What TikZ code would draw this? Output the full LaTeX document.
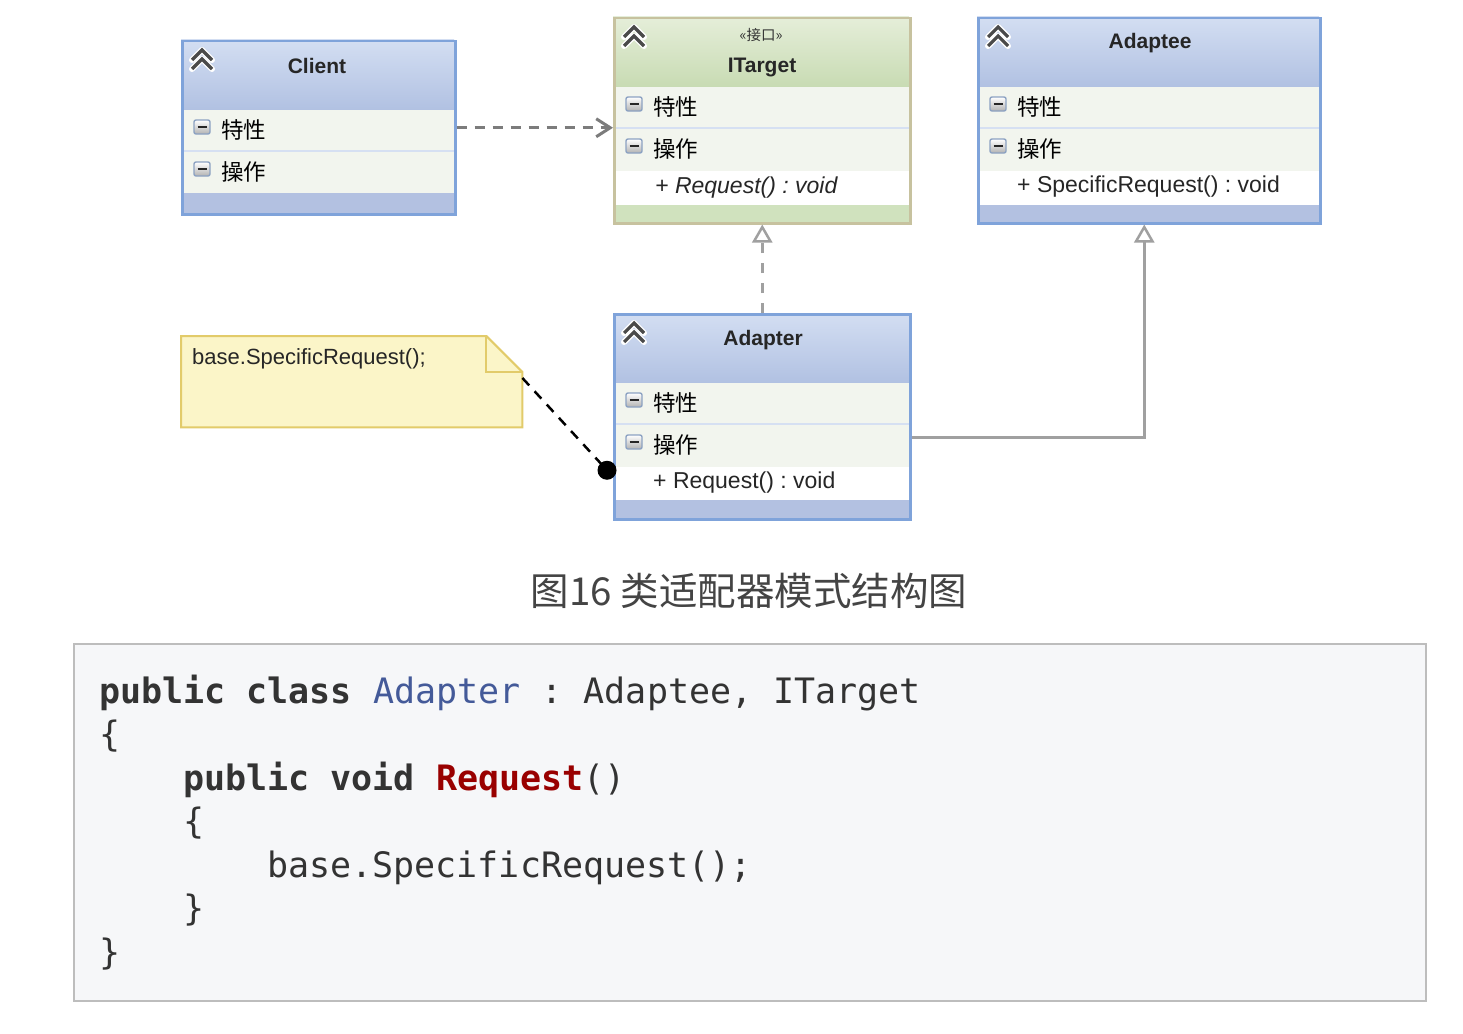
\documentclass[tikz,border=0pt]{standalone}
\usepackage{fontspec}
\setmainfont{Liberation Sans}
\newfontfamily\cjkfont{Noto Sans CJK SC}
\newfontfamily\codefont{DejaVu Sans Mono}
\usetikzlibrary{arrows.meta,calc}
\frenchspacing
\definecolor{hdrtop}{HTML}{D3DEF2}
\definecolor{hdrbot}{HTML}{B1C1E2}
\definecolor{bluebd}{HTML}{7FA3DA}
\definecolor{rowfill}{HTML}{F2F5EE}
\definecolor{rowsep}{HTML}{D6E0F2}
\definecolor{bluestrip}{HTML}{B3C1E1}
\definecolor{grtop}{HTML}{E5EED9}
\definecolor{grbot}{HTML}{C8DBB3}
\definecolor{greenbd}{HTML}{C7C29F}
\definecolor{grstrip}{HTML}{D0E2BE}
\definecolor{notefill}{HTML}{FBF5C8}
\definecolor{notebd}{HTML}{E2CB6A}
\definecolor{codebg}{HTML}{F6F7F9}
\definecolor{codebd}{HTML}{BDBDBD}
\definecolor{codetxt}{HTML}{333333}
\definecolor{codeblue}{HTML}{445A99}
\definecolor{codered}{HTML}{990000}
\definecolor{capgray}{HTML}{444444}
\definecolor{chevgray}{HTML}{4A4A4A}
\definecolor{icobd}{HTML}{8CA2C2}
\definecolor{depgray}{HTML}{7C7C7C}
\definecolor{realgray}{HTML}{A0A0A0}
\newcommand\umlframe[8]{%
  \shade[top color=#5,bottom color=#6] (#1,#2) rectangle (#3,#2+70);
  \fill[rowfill] (#1,#2+70) rectangle (#3,#4);
  \draw[rowsep,line width=1.2pt] (#1,#2+111) -- (#3,#2+111);
  \fill[#7] (#1,#4-#8) rectangle (#3,#4);
}
\newcommand\umlchev[2]{%
  \draw[white,line width=6pt,line cap=round,line join=round]
    (#1-10,#2+10) -- (#1,#2) -- (#1+10,#2+10) (#1-10,#2+19) -- (#1,#2+9) -- (#1+10,#2+19);
  \draw[chevgray,line width=3.2pt,line cap=butt,line join=miter]
    (#1-10,#2+10) -- (#1,#2) -- (#1+10,#2+10) (#1-10,#2+19) -- (#1,#2+9) -- (#1+10,#2+19);
}
\newcommand\umlminus[2]{%
  \shade[top color=white,bottom color=black!30,draw=icobd,line width=1.4pt,rounded corners=2pt]
    (#1-8,#2-7) rectangle (#1+8,#2+7);
  \draw[black!85,line width=2pt] (#1-4.5,#2) -- (#1+4.5,#2);
}
\begin{document}
\begin{tikzpicture}[x=1pt,y=-1pt,
  classbox/.style={draw=#1,line width=2.5pt,inner sep=0pt,anchor=north west,fill=none},
  title/.style={font=\bfseries\fontsize{21}{24}\selectfont,inner sep=0pt,text=black!85},
  rowlabel/.style={font=\cjkfont\fontsize{22.5}{26}\selectfont,inner sep=0pt,anchor=west},
  member/.style={font=\fontsize{23}{27}\selectfont,inner sep=0pt,anchor=west,text=black!85},
  codeline/.style={font=\codefont\fontsize{35}{40}\selectfont,inner sep=0pt,anchor=base west,text=codetxt},
  dep/.style={draw=depgray,line width=3pt,dash pattern=on 10pt off 8pt},
  realize/.style={draw=realgray,line width=2.5pt,dash pattern=on 10pt off 10pt},
  inherit/.style={draw=realgray,line width=2.5pt},
]
\useasboundingbox (0,0) rectangle (1463,1033);
\fill[white] (0,0) rectangle (1463,1033);

% ---------- class backgrounds ----------
\umlframe{181}{40}{454}{213}{hdrtop}{hdrbot}{bluestrip}{20}
\umlframe{613}{17}{909}{222}{grtop}{grbot}{grstrip}{17}
\fill[white] (613,171) rectangle (909,205);
\umlframe{977}{17}{1319}{222}{hdrtop}{hdrbot}{bluestrip}{17}
\fill[white] (977,171) rectangle (1319,205);
\umlframe{613}{313}{909}{518}{hdrtop}{hdrbot}{bluestrip}{18}
\fill[white] (613,467) rectangle (909,500);

% ---------- class borders ----------
\node[classbox=bluebd,minimum width=273pt,minimum height=173pt] (client) at (181,40) {};
\node[classbox=greenbd,minimum width=296pt,minimum height=205pt] (target) at (613,17) {};
\node[classbox=bluebd,minimum width=342pt,minimum height=205pt] (adaptee) at (977,17) {};
\node[classbox=bluebd,minimum width=296pt,minimum height=205pt] (adapter) at (613,313) {};

% ---------- icons ----------
\umlchev{202}{50}
\umlchev{634}{27}
\umlchev{998}{27}
\umlchev{634}{323}
\umlminus{202}{127}
\umlminus{202}{169}
\umlminus{634}{104}
\umlminus{634}{146}
\umlminus{998}{104}
\umlminus{998}{146}
\umlminus{634}{400}
\umlminus{634}{442}

% ---------- class texts ----------
\node[title] (client-title) at (317,66) {Client};
\node[rowlabel] (client-attr) at (221,130) {特性};
\node[rowlabel] (client-op) at (221,172) {操作};

\node[font=\cjkfont\fontsize{14.5}{16}\selectfont,inner sep=0pt,text=black!80] (target-st) at (761,35) {«接口»};
\node[title] (target-title) at (762,68) {ITarget};
\node[rowlabel] (target-attr) at (653,107) {特性};
\node[rowlabel] (target-op) at (653,149) {操作};
\node[member,font=\itshape\fontsize{23}{27}\selectfont] (target-m) at (655,188) {+ Request() : void};

\node[title] (adaptee-title) at (1150,43) {Adaptee};
\node[rowlabel] (adaptee-attr) at (1017,107) {特性};
\node[rowlabel] (adaptee-op) at (1017,149) {操作};
\node[member] (adaptee-m) at (1017,187) {+ SpecificRequest() : void};

\node[title] (adapter-title) at (763,340) {Adapter};
\node[rowlabel] (adapter-attr) at (653,403) {特性};
\node[rowlabel] (adapter-op) at (653,445) {操作};
\node[member] (adapter-m) at (653,483) {+ Request() : void};

% ---------- note ----------
\node[inner sep=0pt,minimum width=341pt,minimum height=91pt,anchor=north west] (note) at (181,336) {};
\filldraw[fill=notefill,draw=notebd,line width=2pt,line join=miter]
  (note.north west) -- ($(note.north east)+(-36,0)$) -- ($(note.north east)+(0,36)$)
  -- (note.south east) -- (note.south west) -- cycle;
\draw[notebd,line width=2pt] ($(note.north east)+(-36,0)$) -- ($(note.north east)+(-36,36)$) -- ($(note.north east)+(0,36)$);
\node[font=\fontsize{22}{26}\selectfont,inner sep=0pt,anchor=west,text=black!85] (note-text) at (192,359) {base.SpecificRequest();};

% ---------- connectors ----------
\draw[dep,-{Straight Barb[length=14pt,width=18pt]}] (client.east) -- (client.east -| target.west);
\draw[realize,-{Triangle[length=18pt,width=20pt,fill=white]}] (adapter.north) -- (target.south);
\draw[inherit,-{Triangle[length=18pt,width=20pt,fill=white]}] ($(adapter.east)+(0,20.5)$) -| ($(adaptee.south)+(-5,0)$);
\coordinate (note-end) at ($(note.north east)+(0,42)$);
\coordinate (dot) at ($(adapter.west)+(-6,53.5)$);
\draw[black,line width=2.5pt,dash pattern=on 10pt off 8pt] (note-end) -- (dot);
\fill[black] (dot) circle (9.5);

% ---------- caption ----------
\node[font=\cjkfont\fontsize{38.5}{44}\selectfont,text=capgray,inner sep=0pt] (caption) at (749,591) {图16 类适配器模式结构图};

% ---------- code ----------
\node[draw=codebd,fill=codebg,line width=1.5pt,inner sep=0pt,anchor=north west,minimum width=1352pt,minimum height=357pt] (code) at (73,643) {};
\node[codeline] (code1) at (99,703) {\bfseries public class \mdseries\textcolor{codeblue}{Adapter} : Adaptee, ITarget};
\node[codeline] (code2) at (99,746.5) {\{};
\node[codeline] (code3) at (183,790) {\bfseries public void \textcolor{codered}{Request}\mdseries()};
\node[codeline] (code4) at (183,833.5) {\{};
\node[codeline] (code5) at (267,877) {base.SpecificRequest();};
\node[codeline] (code6) at (183,920.5) {\}};
\node[codeline] (code7) at (99,964) {\}};
\end{tikzpicture}
\end{document}
